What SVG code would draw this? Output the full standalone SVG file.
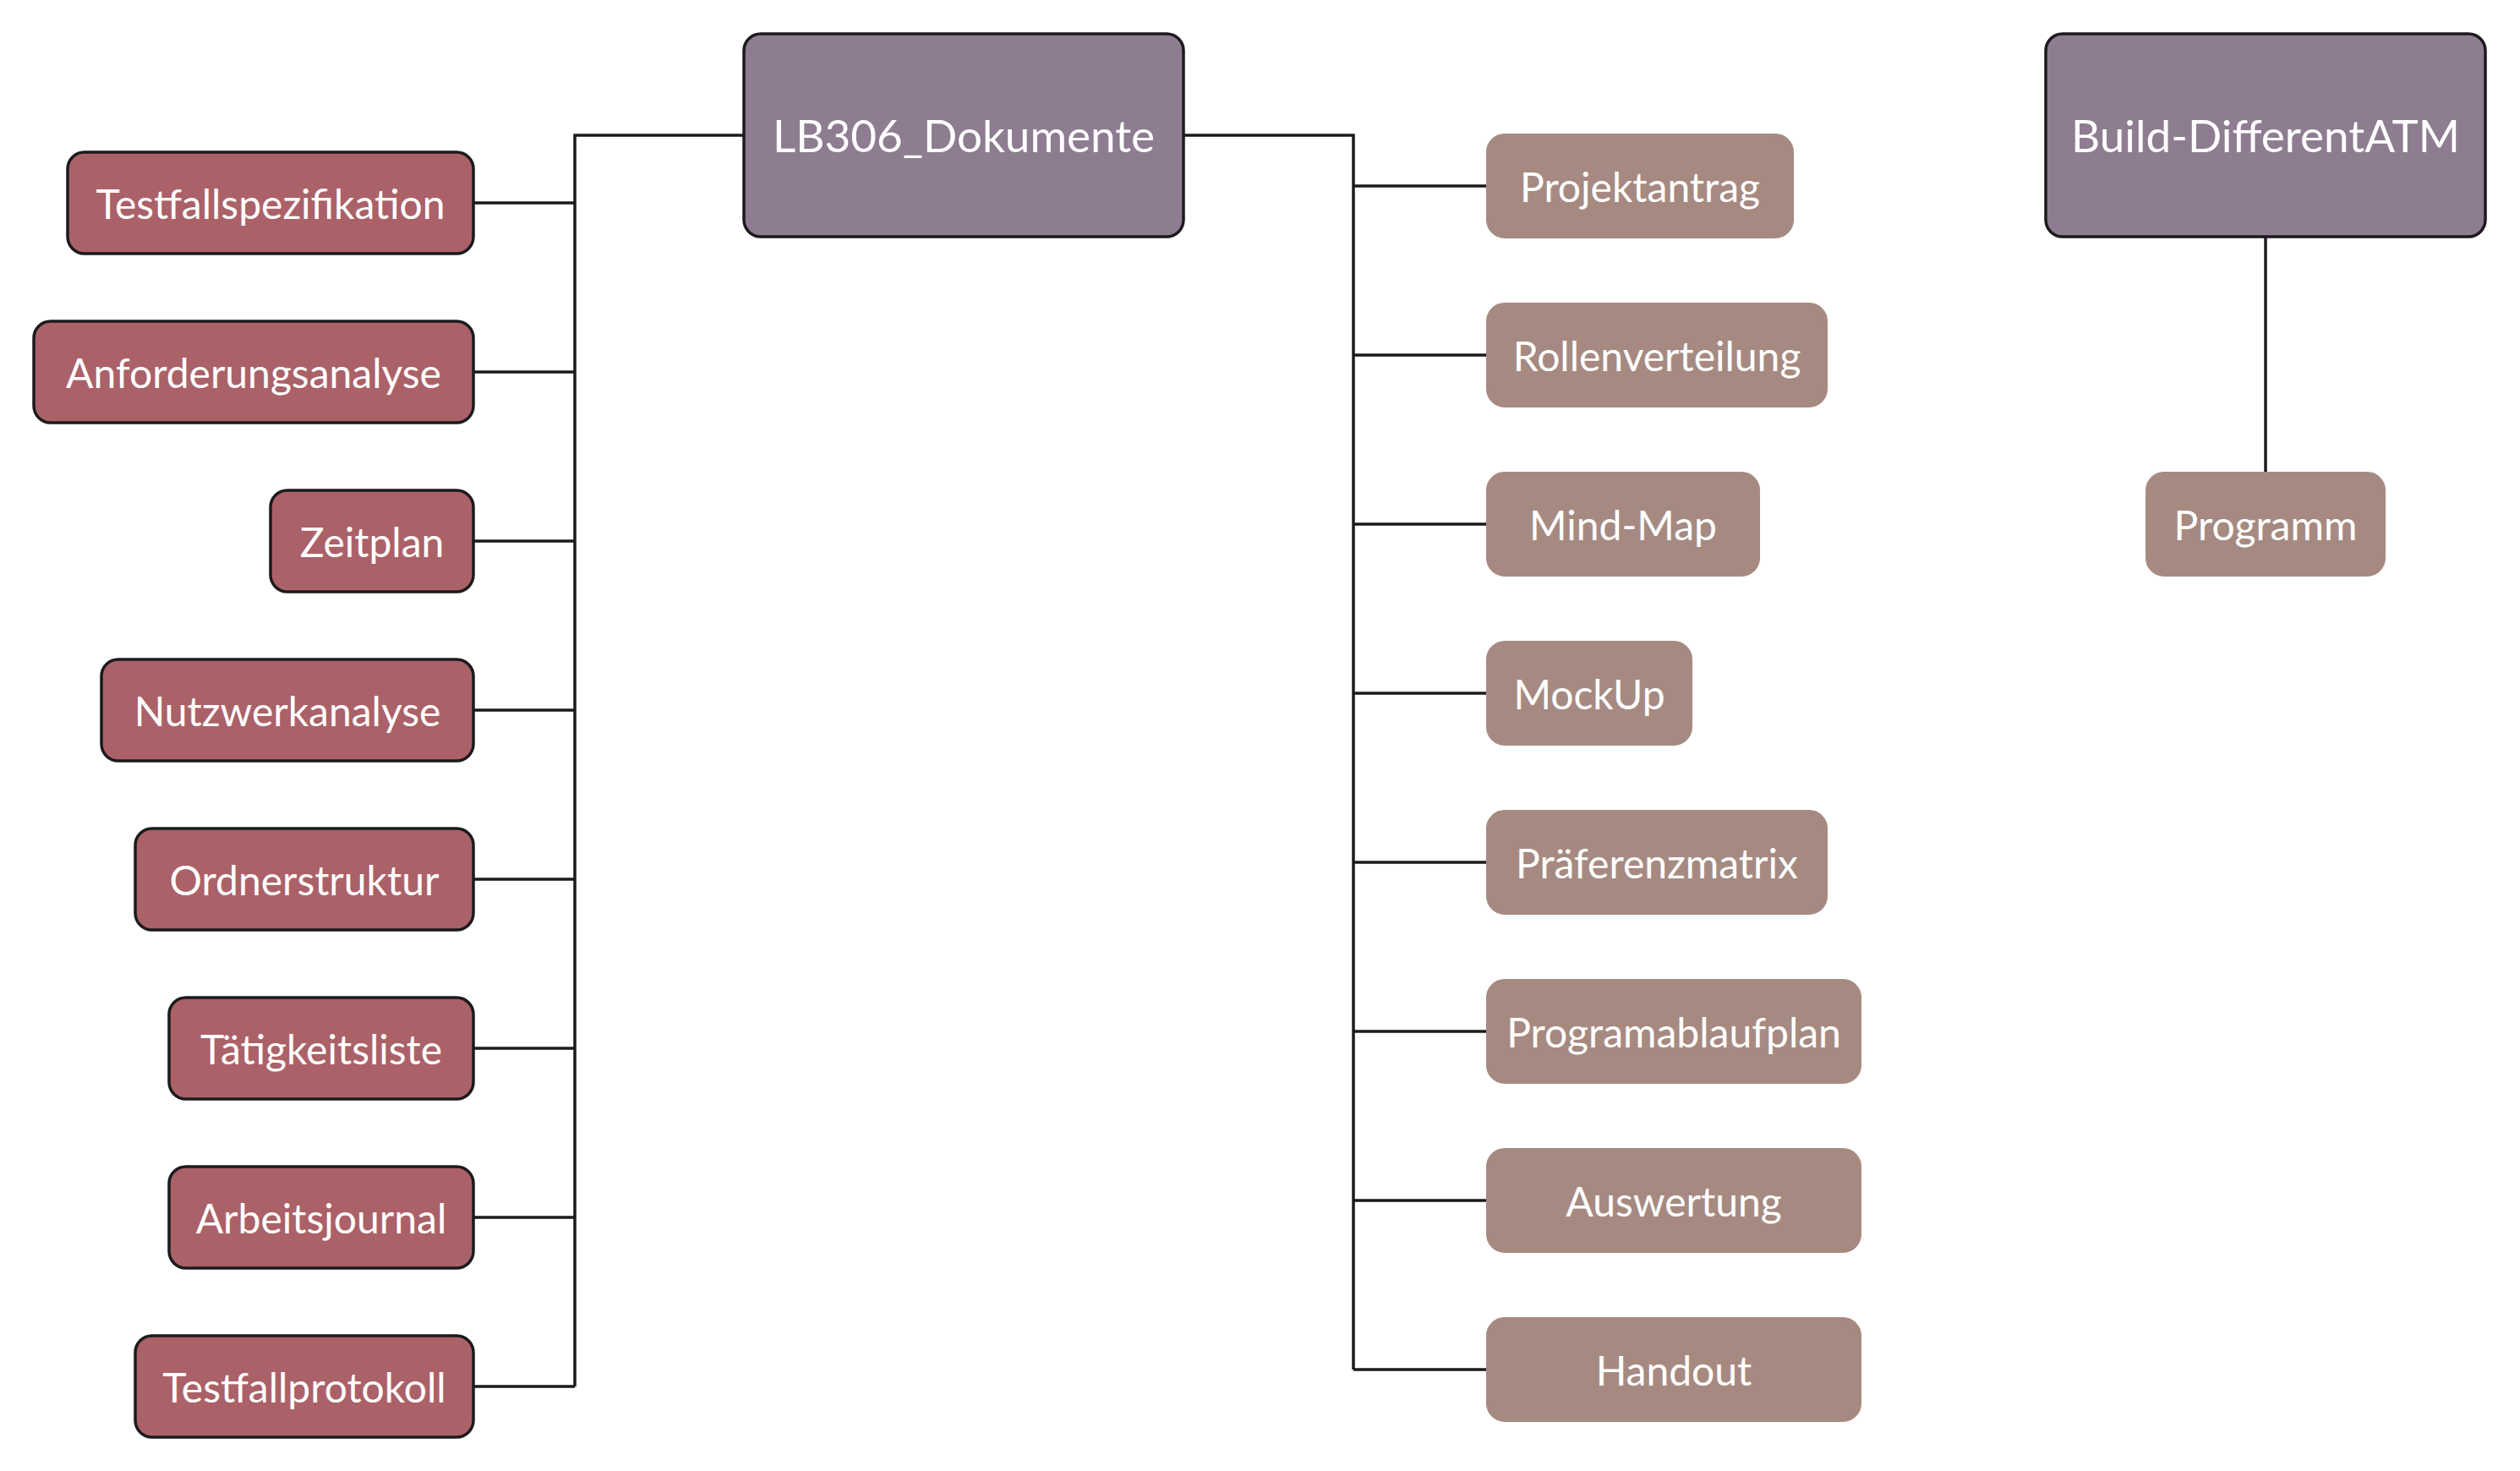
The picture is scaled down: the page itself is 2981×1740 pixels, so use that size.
<svg xmlns="http://www.w3.org/2000/svg" width="2981" height="1740" viewBox="0 0 2981 1740">
<style>
.root rect{fill:#8e7c91;stroke:#1c1a1c;stroke-width:3.5}
.left rect{fill:#ab6168;stroke:#1c1a1c;stroke-width:3.5}
.right rect{fill:#a68a81;stroke:#a68a81;stroke-width:4}
text{font-family:Lato,"Noto Sans","Liberation Sans",sans-serif;fill:#ffffff;text-anchor:middle}
.root text{font-size:53px}
.left text,.right text{font-size:48px}
#connectors path{fill:none;stroke:#1c1a1c;stroke-width:3.5}
</style>
<rect width="2981" height="1740" fill="#ffffff"/>
<g id="connectors">
<path d="M880 160H680V1640"/>
<path d="M560 240H680M560 440H680M560 640H680M560 840H680M560 1040H680M560 1240H680M560 1440H680M560 1640H680"/>
<path d="M1400 160H1601V1620"/>
<path d="M1601 220H1758M1601 420H1758M1601 620H1758M1601 820H1758M1601 1020H1758M1601 1220H1758M1601 1420H1758M1601 1620H1758"/>
<path d="M2680 280V558"/>
</g>
<g id="n-lb306" class="root"><rect x="880" y="40" width="520" height="240" rx="20"/><text x="1140" y="180">LB306_Dokumente</text></g>
<g id="n-atm" class="root"><rect x="2420" y="40" width="520" height="240" rx="20"/><text x="2680" y="180">Build-DifferentATM</text></g>
<g id="n-programm" class="right"><rect x="2540" y="560" width="280" height="120" rx="20"/><text x="2680" y="639">Programm</text></g>
<g id="n-testfallspez" class="left"><rect x="80" y="180" width="480" height="120" rx="20"/><text x="320" y="259">Testfallspezifikation</text></g>
<g id="n-anforderung" class="left"><rect x="40" y="380" width="520" height="120" rx="20"/><text x="300" y="459">Anforderungsanalyse</text></g>
<g id="n-zeitplan" class="left"><rect x="320" y="580" width="240" height="120" rx="20"/><text x="440" y="659">Zeitplan</text></g>
<g id="n-nutzwert" class="left"><rect x="120" y="780" width="440" height="120" rx="20"/><text x="340" y="859">Nutzwerkanalyse</text></g>
<g id="n-ordner" class="left"><rect x="160" y="980" width="400" height="120" rx="20"/><text x="360" y="1059">Ordnerstruktur</text></g>
<g id="n-taetigkeit" class="left"><rect x="200" y="1180" width="360" height="120" rx="20"/><text x="380" y="1259">Tätigkeitsliste</text></g>
<g id="n-arbeitsjournal" class="left"><rect x="200" y="1380" width="360" height="120" rx="20"/><text x="380" y="1459">Arbeitsjournal</text></g>
<g id="n-testfallprot" class="left"><rect x="160" y="1580" width="400" height="120" rx="20"/><text x="360" y="1659">Testfallprotokoll</text></g>
<g id="n-projektantrag" class="right"><rect x="1760" y="160" width="360" height="120" rx="20"/><text x="1940" y="239">Projektantrag</text></g>
<g id="n-rollen" class="right"><rect x="1760" y="360" width="400" height="120" rx="20"/><text x="1960" y="439">Rollenverteilung</text></g>
<g id="n-mindmap" class="right"><rect x="1760" y="560" width="320" height="120" rx="20"/><text x="1920" y="639">Mind-Map</text></g>
<g id="n-mockup" class="right"><rect x="1760" y="760" width="240" height="120" rx="20"/><text x="1880" y="839">MockUp</text></g>
<g id="n-praeferenz" class="right"><rect x="1760" y="960" width="400" height="120" rx="20"/><text x="1960" y="1039">Präferenzmatrix</text></g>
<g id="n-pap" class="right"><rect x="1760" y="1160" width="440" height="120" rx="20"/><text x="1980" y="1239">Programablaufplan</text></g>
<g id="n-auswertung" class="right"><rect x="1760" y="1360" width="440" height="120" rx="20"/><text x="1980" y="1439">Auswertung</text></g>
<g id="n-handout" class="right"><rect x="1760" y="1560" width="440" height="120" rx="20"/><text x="1980" y="1639">Handout</text></g>
</svg>
